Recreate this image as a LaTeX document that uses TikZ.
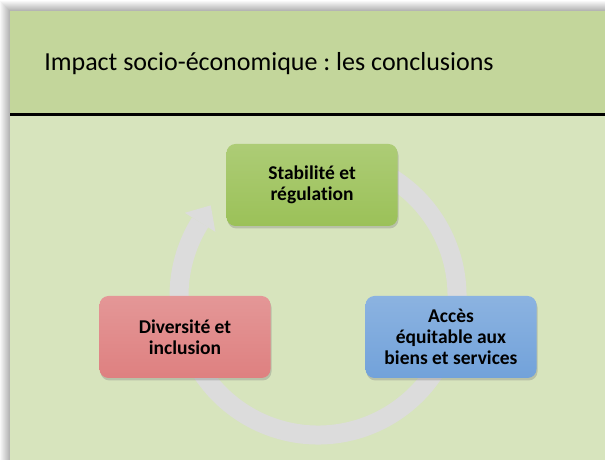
\documentclass[tikz,border=0pt]{standalone}
\usepackage{fontspec}
\setmainfont{Carlito}[Ligatures=NoCommon]
\usetikzlibrary{shadows,calc}
\frenchspacing
\definecolor{headgreen}{HTML}{C3D69B}
\definecolor{bodygreen}{HTML}{D7E4BD}
\definecolor{ringgray}{HTML}{DCDCDC}
\definecolor{boxgreen}{HTML}{9BC158}
\definecolor{boxred}{HTML}{DE8080}
\definecolor{boxblue}{HTML}{72A2DA}
\tikzset{
  cyclebox/.style={
    rounded corners=9pt, minimum width=171pt, minimum height=82pt,
    align=center, inner sep=2pt,
    font=\bfseries\fontsize{19.5}{21}\selectfont,
    top color=#1!82!white, bottom color=#1,
    drop shadow={shadow xshift=1pt, shadow yshift=-2.5pt, opacity=0.35}
  },
  ring/.style={draw=ringgray, line width=19pt}
}
\begin{document}
\begin{tikzpicture}[x=1pt,y=1pt]
  \useasboundingbox (0,0) rectangle (605,460);
  \fill[white] (0,0) rectangle (605,460);
  % soft shadow round the slide
  \foreach \i [evaluate=\i as \op using 0.32*(1-\i/11)] in {1,...,10} {
    \draw[black, opacity=\op, line width=1pt]
      (10.5-\i,0) -- (10.5-\i,448.5+\i) -- (605,448.5+\i);
  }
  % slide
  \fill[headgreen] (10,345) rectangle (605,449);
  \fill[bodygreen] (10,0) rectangle (605,345);
  \draw[black, line width=3pt] (10,345) -- (605,345);
  \node (title) at (269,396) {\fontsize{26}{31}\selectfont Impact socio-économique : les conclusions};

  % cycle: ring and its head
  \coordinate (O) at (318,164);
  \draw[ring] (O) ++(75:139) arc[start angle=75, end angle=-212, radius=139];
  \coordinate (head) at ($(O)+(148:139)$);
  \fill[ringgray] ($(O)+(148:121)$) -- ($(O)+(148:157)$) -- ($(head)+(58:20)$) -- cycle;
  \node[cyclebox=boxgreen] (stab) at (312,275) {Stabilité et\\régulation};
  \node[cyclebox=boxblue] (acces) at (451,123) {Accès\\équitable aux\\biens et services};
  \node[cyclebox=boxred] (div) at (185,123) {Diversité et\\inclusion};
\end{tikzpicture}
\end{document}
